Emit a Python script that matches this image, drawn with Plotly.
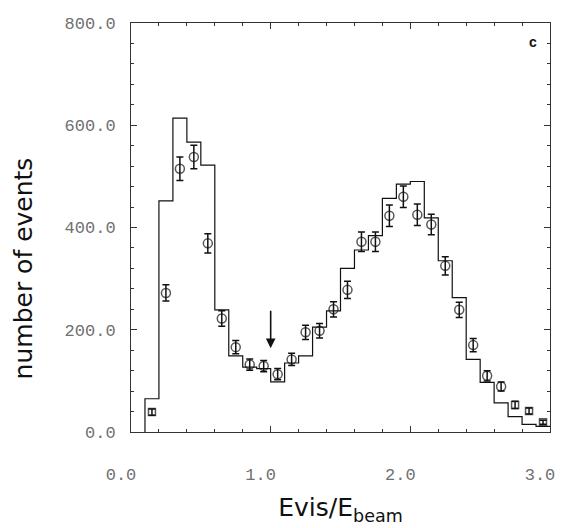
import plotly.graph_objects as go

# histogram (Monte Carlo) : bin left edges and contents
bin_edges = [round(0.1 + 0.1 * i, 1) for i in range(30)]
hist_values = [65, 452, 614, 567, 522, 239, 149, 127, 124, 98,
               135, 149, 205, 237, 320, 356, 384, 457, 485, 490,
               419, 335, 263, 142, 97, 57, 30, 15, 11]

# data points
x_data = [0.15, 0.25, 0.35, 0.45, 0.55, 0.65, 0.75, 0.85, 0.95, 1.05,
          1.15, 1.25, 1.35, 1.45, 1.55, 1.65, 1.75, 1.85, 1.95, 2.05,
          2.15, 2.25, 2.35, 2.45, 2.55, 2.65, 2.75, 2.85, 2.95]
y_data = [39, 272, 515, 538, 369, 222, 166, 132, 129, 113,
          142, 195, 198, 240, 278, 372, 372, 423, 460, 425,
          406, 325, 239, 170, 110, 89, 53, 41, 19]
y_err = [6, 16, 23, 23, 19, 15, 13, 11, 11, 11,
         12, 14, 14, 15, 17, 19, 19, 21, 21, 21,
         20, 18, 15, 13, 10, 9, 7, 6, 4]
square_pts = [0.15, 2.75, 2.85, 2.95]

x_ticks = [0.0, 1.0, 2.0, 3.0]
x_ticklabels = ["0.0", "1.0", "2.0", "3.0"]
y_ticks = [0, 200, 400, 600, 800]
y_ticklabels = ["0.0", "200.0", "400.0", "600.0", "800.0"]

# step outline built from the histogram
hx = [bin_edges[0]] + bin_edges
hy = [0] + hist_values + [hist_values[-1]]

fig = go.Figure()
fig.add_trace(go.Scatter(x=hx, y=hy, mode="lines", line_shape="hv",
                         line=dict(color="#111111", width=1.2),
                         hoverinfo="skip", showlegend=False, cliponaxis=False))

symbols = ["square-open" if x in square_pts else "circle-open" for x in x_data]
sizes = [7 if x in square_pts else 9 for x in x_data]
fig.add_trace(go.Scatter(
    x=x_data, y=y_data, mode="markers",
    marker=dict(symbol=symbols, size=sizes, color="#111111",
                line=dict(width=1.5, color="#111111")),
    error_y=dict(type="data", array=y_err, visible=True,
                 color="#111111", thickness=1.5, width=3.5),
    showlegend=False))

fig.add_annotation(x=1.0, y=164, ax=1.0, ay=240, xref="x", yref="y",
                   axref="x", ayref="y", showarrow=True, arrowhead=2,
                   arrowsize=1.2, arrowwidth=1.6, arrowcolor="#111111", text="")
fig.add_annotation(x=2.875, y=763, xref="x", yref="y", text="<b>c</b>",
                   showarrow=False, font=dict(family="Liberation Sans", size=14, color="#111111"))
# y-axis title (placed slightly below the axis centre, as in the original)
fig.add_annotation(x=0, y=0.40, xref="paper", yref="paper", xshift=-108,
                   xanchor="center", yanchor="middle",
                   text="number of events", textangle=-90, showarrow=False,
                   font=dict(family="DejaVu Sans", size=25, color="#111111"))

mono = dict(family="Liberation Mono", size=17, color="#707070")
fig.update_xaxes(range=[0, 3], tickvals=x_ticks, ticktext=x_ticklabels,
                 ticks="inside", ticklen=6, tickwidth=1, tickcolor="#333333",
                 minor=dict(ticks="inside", dtick=0.2, tick0=0, ticklen=3, tickcolor="#333333"),
                 mirror="allticks", showline=True, linecolor="#333333", linewidth=1,
                 showgrid=False, zeroline=False, tickfont=mono, automargin=False,
                 ticklabelstandoff=27, ticklabelshift=-10, ticklabeloverflow="allow",
                 title=dict(text="Evis/E<sub>beam</sub>", standoff=14,
                            font=dict(family="DejaVu Sans", size=25, color="#111111")))
fig.update_yaxes(range=[0, 800], tickvals=y_ticks, ticktext=y_ticklabels,
                 ticks="inside", ticklen=6, tickwidth=1, tickcolor="#333333",
                 minor=dict(ticks="inside", dtick=40, tick0=0, ticklen=3, tickcolor="#333333"),
                 mirror="allticks", showline=True, linecolor="#333333", linewidth=1,
                 showgrid=False, zeroline=False, tickfont=mono, ticklabelstandoff=11,
                 ticklabeloverflow="allow", automargin=False)

fig.update_layout(width=561, height=528, plot_bgcolor="white", paper_bgcolor="white",
                  margin=dict(l=131, r=11, t=23, b=96, autoexpand=False))

fig.write_html("out.html", config={"displayModeBar": False},
               post_script="document.body.style.margin='0';")
